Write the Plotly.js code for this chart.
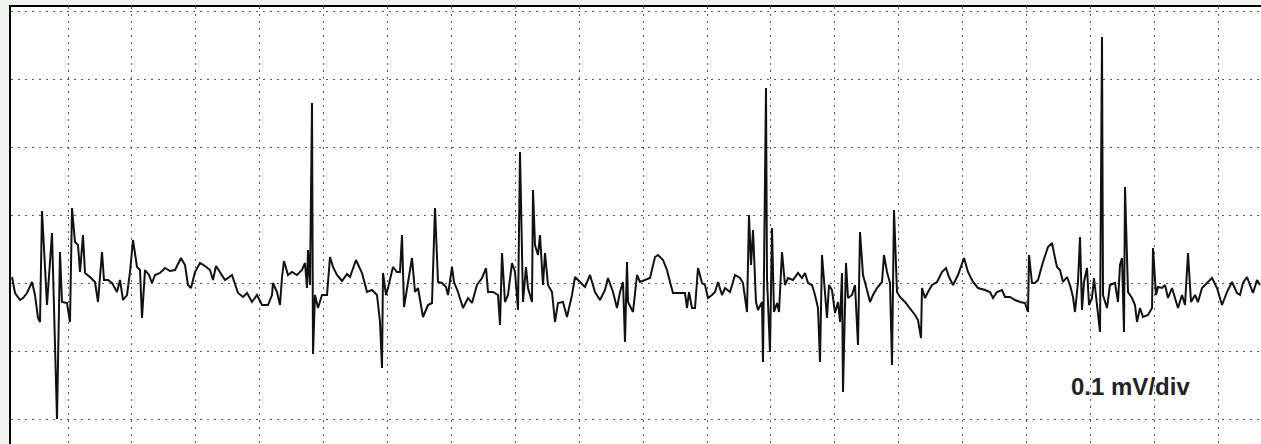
<!DOCTYPE html>
<html>
<head>
<meta charset="utf-8">
<script src="https://cdn.plot.ly/plotly-3.0.1.min.js"></script>
<style>html,body{margin:0;padding:0;background:#eef5ec;}#chart{width:1261px;height:444px;}</style>
</head>
<body>
<div id="chart"></div>
<script>
// Raw trace: sample index and amplitude in ADC counts (68 counts = 0.1 mV = 1 division)
const sampleIndex = [
1,4,9,12,16,21,24,27,29,31,36,41,46,49,51,56,59,61,64,67,69,72,74,79,84,87,91,93,97,101,106,109,112,116,119,122,126,129,131,134,138,141,144,149,154,159,164,170,174,177,180,184,189,194,199,202,205,209,214,221,224,227,232,236,241,246,251,257,261,262,266,269,271,273,277,281,286,291,294,296,297,299,301,302,304,307,311,316,319,322,326,331,336,339,345,351,356,361,366,369,371,372,375,377,382,386,389,391,393,397,401,404,407,412,417,421,424,427,431,435,437,441,443,447,452,457,461,466,471,475,477,482,487,489,491,494,497,501,504,507,509,512,515,517,521,522,524,527,529,532,534,537,541,544,547,552,556,561,564,569,574,579,584,589,594,597,602,606,609,612,614,616,617,622,626,629,634,639,644,647,652,656,659,662,667,674,676,678,681,684,687,691,694,697,701,704,707,711,714,719,724,729,732,736,738,740,742,745,747,751,752,755,756,759,761,763,766,768,771,774,777,782,787,791,794,797,801,804,807,809,811,814,816,818,821,824,827,829,831,832,835,837,841,844,847,849,852,856,859,862,866,871,873,876,879,881,883,886,889,894,899,904,907,910,911,914,917,921,926,931,935,938,942,947,953,957,962,967,974,979,982,986,991,994,999,1004,1009,1014,1017,1018,1021,1024,1027,1032,1037,1041,1044,1046,1049,1052,1056,1059,1062,1064,1067,1069,1071,1073,1076,1078,1081,1083,1086,1089,1091,1092,1096,1099,1104,1107,1109,1111,1113,1114,1117,1121,1124,1126,1129,1132,1137,1141,1142,1145,1147,1151,1154,1157,1161,1164,1167,1171,1174,1177,1180,1184,1187,1191,1196,1201,1206,1211,1216,1221,1226,1229,1232,1236,1239,1242,1246,1249
];
const amplitudeCounts = [
6,-10,-17,-15,-10,1,-12,-35,-39,72,-22,50,-136,31,-19,-20,-39,75,41,38,11,48,10,6,1,-19,31,3,3,0,-9,3,-17,-12,11,43,16,13,-35,13,8,0,8,10,15,12,13,25,18,-2,-5,11,20,17,13,3,17,11,3,8,-1,-10,-14,-10,-19,-12,-22,-22,-12,0,-9,-22,6,22,8,11,8,13,20,-5,33,-2,180,-71,-12,-25,-12,-12,26,16,8,2,9,6,23,10,-9,-7,-12,-39,-85,10,-12,-5,16,11,11,48,-24,1,25,-9,-5,-34,-22,-20,75,1,0,-4,-12,16,1,-9,-25,-15,-20,-2,5,15,-9,-9,-12,-42,30,-19,-12,20,11,-27,131,-19,16,-5,-19,93,38,28,48,-2,30,-2,-9,-39,-20,-19,-34,-12,6,1,-4,8,-9,-17,-7,5,-9,-25,-9,1,-59,21,-19,-29,8,1,3,5,26,28,23,13,1,-10,-10,-10,-25,-9,-25,-25,15,0,-2,-15,-12,-9,1,-12,-5,-9,8,5,0,-29,68,18,53,-19,-27,-19,-79,195,5,-69,55,-29,-20,-29,31,-2,5,3,10,5,10,0,-2,-12,-25,-79,28,-12,-35,-2,-7,-30,-19,-39,10,-109,20,-15,-12,-2,-62,51,8,-7,-19,-12,-5,1,28,11,0,-82,73,-9,-14,-19,-25,-32,-37,-55,-5,-15,-9,-2,1,11,15,6,-2,8,25,11,1,-5,-7,-9,-15,-9,-7,-14,-14,-17,-19,-20,-29,28,0,0,3,21,36,40,25,16,13,1,6,-2,-14,-29,1,46,-27,1,15,-22,-15,5,-22,-49,246,-12,-25,-2,0,-19,18,25,-49,96,-9,-15,-22,-39,-25,-34,-32,-25,35,-12,-4,-5,-2,-15,-5,-15,-25,-12,-22,30,-19,-12,-19,-5,0,5,-5,-22,-9,1,-10,-12,0,6,-2,-10,3,-2
];
const COUNTS_PER_DIV = 68;      // 0.1 mV per division
const SAMPLES_PER_DIV = 63.9;
const FIRST_GRID_SAMPLE = 57;
const scaleLabel = "0.1 mV/div";

const trace = {
  x: sampleIndex,
  y: amplitudeCounts,
  type: 'scatter',
  mode: 'lines',
  line: {color: '#111111', width: 2},
  hoverinfo: 'skip'
};

const gridStyle = {
  showgrid: true,
  gridcolor: '#555555',
  gridwidth: 1,
  griddash: '2px,5px',
  zeroline: false,
  showticklabels: false,
  ticks: '',
  showline: true,
  linecolor: '#000000',
  linewidth: 2,
  fixedrange: true
};

const layout = {
  width: 1261,
  height: 444,
  margin: {l: 11, r: 0, t: 7, b: 0, pad: 0},
  paper_bgcolor: '#eef5ec',
  plot_bgcolor: '#ffffff',
  showlegend: false,
  xaxis: Object.assign({}, gridStyle, {
    range: [0, 1250], tick0: FIRST_GRID_SAMPLE, dtick: SAMPLES_PER_DIV, side: 'top'
  }),
  yaxis: Object.assign({}, gridStyle, {
    range: [-161, 276], tick0: 0, dtick: COUNTS_PER_DIV
  }),
  annotations: [{
    text: '<b>' + scaleLabel + '</b>',
    x: 1119, y: -103, xref: 'x', yref: 'y',
    showarrow: false,
    font: {family: 'Liberation Sans, Arial, sans-serif', size: 24, color: '#222222'}
  }]
};

Plotly.newPlot('chart', [trace], layout, {displayModeBar: false, staticPlot: true});
</script>
</body>
</html>
